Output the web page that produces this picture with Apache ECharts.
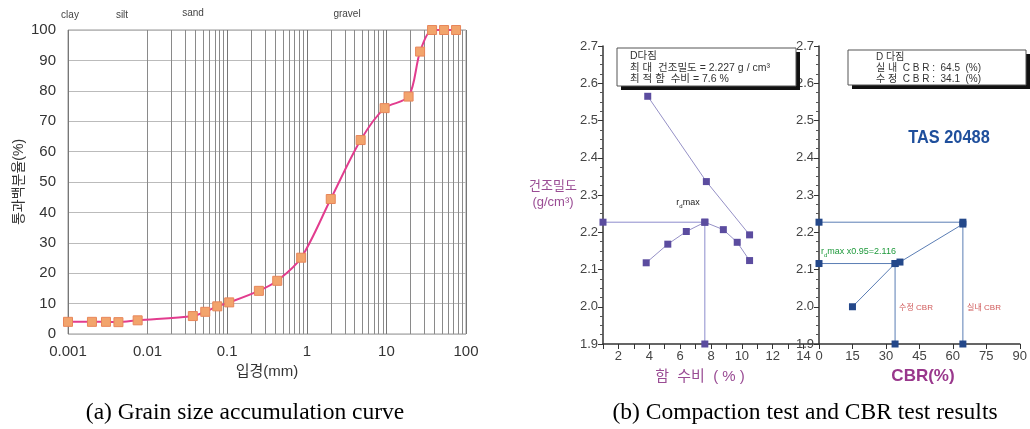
<!DOCTYPE html>
<html>
<head>
<meta charset="utf-8">
<script src="https://cdn.jsdelivr.net/npm/echarts@6.0.0/dist/echarts.min.js"></script>
<style>
  html, body { margin: 0; padding: 0; background: #fff; }
  #container { width: 1030px; height: 429px; }
</style>
</head>
<body>
<div id="container"></div>
<script>
// (a) grain size curve
var grainSize = [0.001, 0.002, 0.003, 0.0043, 0.0075, 0.037, 0.053, 0.075, 0.106, 0.25, 0.425, 0.85, 2, 4.75, 9.5, 19, 26.5, 37.5, 53, 75];
var passing = [4, 4, 4, 3.9, 4.5, 5.9, 7.3, 9.1, 10.4, 14.2, 17.5, 25.1, 44.4, 63.8, 74.3, 78.1, 92.9, 100, 100, 100];
var passTicks = [0, 10, 20, 30, 40, 50, 60, 70, 80, 90, 100];

// (b) compaction test
var moisture = [3.8, 5.2, 6.4, 7.6, 8.8, 9.7, 10.5];
var dryDensity = [2.118, 2.168, 2.202, 2.227, 2.207, 2.173, 2.124];
var zavMoisture = [3.9, 7.7, 10.5];
var zavDensity = [2.565, 2.336, 2.193];
var maxDensity = 2.227;
var optMoisture = 7.6;

// (b) CBR test
var cbrValues = [15, 34.1, 36.3, 64.5];
var cbrDensity = [2.0, 2.116, 2.12, 2.222];
var labCbr = 64.5;
var fieldCbr = 34.1;
var fieldDensity = 2.116;

var dom = document.getElementById("container");
var myChart = echarts.init(dom, null, { renderer: 'canvas' });

var pairs = function (xs, ys) {
    var out = [];
    for (var i = 0; i < xs.length; i++) out.push([xs[i], ys[i]]);
    return out;
};

// minor log grid lines (2..9 per decade)
var logGrid = [];
for (var p = -3; p <= 1; p++) {
    for (var k = 2; k <= 9; k++) logGrid.push({ xAxis: k * Math.pow(10, p) });
}

var sans = "'Liberation Sans', 'Noto Sans CJK KR', sans-serif";
var narrow = "'Liberation Sans Narrow', 'Liberation Sans', sans-serif";
var purple = '#9a4c94';
var cmpMarker = '#5b4c9f';
var cmpLine = '#9590c6';
var cbrMarker = '#24488a';
var cbrLine = '#5a7db4';

var rightYAxis = function (gridIndex) {
    return {
        gridIndex: gridIndex, type: 'value', min: 1.9, max: 2.7, interval: 0.1,
        axisLine: { show: true, lineStyle: { color: '#333', width: 1.5 } },
        axisTick: { show: true, length: 5, lineStyle: { color: '#333' } },
        minorTick: { show: true, splitNumber: 4, length: 3, lineStyle: { color: '#555' } },
        splitLine: { show: false },
        axisLabel: { fontSize: 13, color: '#444', fontFamily: narrow, margin: 5,
            formatter: function (v) { return v.toFixed(1); } }
    };
};

var txt = function (x, y, text, font, fill, align, sx) {
    return { type: 'text', x: x, y: y, z: 100, silent: true, scaleX: sx || 1,
        style: { text: text, font: font, fill: fill || '#333', textAlign: align || 'left', textVerticalAlign: 'middle' } };
};

var option = {
    animation: false,
    grid: [
        { left: 68, top: 30, width: 398, height: 304, show: true, borderColor: '#999', borderWidth: 1 },
        { left: 603, top: 46, width: 216, height: 298 },
        { left: 819, top: 46, width: 202, height: 298 }
    ],
    xAxis: [
        {
            gridIndex: 0, type: 'log', logBase: 10, min: 0.001, max: 100,
            name: '입경(mm)', nameLocation: 'middle', nameGap: 30,
            nameTextStyle: { fontSize: 15, color: '#333', fontFamily: sans },
            axisLine: { show: false }, axisTick: { show: false },
            splitLine: { show: true, lineStyle: { color: '#777' } },
            axisLabel: { fontSize: 15, color: '#333', fontFamily: sans, margin: 10,
                formatter: function (v) { return String(v); } }
        },
        {
            gridIndex: 1, type: 'value', min: 1, max: 15, interval: 1,
            axisLine: { show: true, lineStyle: { color: '#333', width: 1.5 } },
            axisTick: { show: true, length: 5, lineStyle: { color: '#333' } },
            splitLine: { show: false },
            axisLabel: { fontSize: 13, color: '#444', fontFamily: narrow, margin: 6,
                formatter: function (v) { return (v % 2 === 0 && v <= 14) ? String(v) : ''; } }
        },
        {
            gridIndex: 2, type: 'value', min: 0, max: 90, interval: 15,
            axisLine: { show: true, lineStyle: { color: '#333', width: 1.5 } },
            axisTick: { show: true, length: 5, lineStyle: { color: '#333' } },
            splitLine: { show: false },
            axisLabel: { fontSize: 13, color: '#444', fontFamily: narrow, margin: 6 }
        }
    ],
    yAxis: [
        {
            gridIndex: 0, type: 'value', min: passTicks[0], max: passTicks[passTicks.length - 1], interval: 10,
            name: '통과백분율(%)', nameLocation: 'middle', nameGap: 42, nameRotate: 90,
            nameTextStyle: { fontSize: 14, color: '#333', fontFamily: sans },
            axisLine: { show: false }, axisTick: { show: false },
            splitLine: { show: true, lineStyle: { color: '#bbb' } },
            axisLabel: { fontSize: 15, color: '#333', fontFamily: sans, margin: 12 }
        },
        rightYAxis(1),
        rightYAxis(2)
    ],
    series: [
        {
            type: 'line', xAxisIndex: 0, yAxisIndex: 0, data: [], z: 1, silent: true,
            markLine: { silent: true, symbol: ['none', 'none'], label: { show: false },
                lineStyle: { color: '#8a8a8a', width: 1, type: 'solid' }, data: logGrid }
        },
        {
            name: 'grain', type: 'line', xAxisIndex: 0, yAxisIndex: 0, z: 5,
            data: pairs(grainSize, passing), smooth: 0.3,
            lineStyle: { color: '#e23c8e', width: 2 },
            symbol: 'rect', symbolSize: 9,
            itemStyle: { color: '#f2a46c', borderColor: '#e8865a', borderWidth: 1 }
        },
        {
            name: 'zav', type: 'line', xAxisIndex: 1, yAxisIndex: 1,
            data: pairs(zavMoisture, zavDensity),
            lineStyle: { color: cmpLine, width: 1 },
            symbol: 'rect', symbolSize: 7, itemStyle: { color: cmpMarker }
        },
        {
            name: 'guideCmp', type: 'line', xAxisIndex: 1, yAxisIndex: 1,
            data: [[1, maxDensity], [optMoisture, maxDensity], [optMoisture, 1.9]],
            lineStyle: { color: '#8d8ccc', width: 1 },
            symbol: 'rect', symbolSize: 7, itemStyle: { color: cmpMarker }
        },
        {
            name: 'compaction', type: 'line', xAxisIndex: 1, yAxisIndex: 1,
            data: pairs(moisture, dryDensity),
            lineStyle: { color: cmpLine, width: 1 },
            symbol: 'rect', symbolSize: 7, itemStyle: { color: cmpMarker }
        },
        {
            name: 'guideLab', type: 'line', xAxisIndex: 2, yAxisIndex: 2,
            data: [[0, maxDensity], [labCbr, maxDensity], [labCbr, 1.9]],
            lineStyle: { color: cbrLine, width: 1 },
            symbol: 'rect', symbolSize: 7, itemStyle: { color: cbrMarker }
        },
        {
            name: 'guideField', type: 'line', xAxisIndex: 2, yAxisIndex: 2,
            data: [[0, fieldDensity], [fieldCbr, fieldDensity], [fieldCbr, 1.9]],
            lineStyle: { color: cbrLine, width: 1 },
            symbol: 'rect', symbolSize: 7, itemStyle: { color: cbrMarker }
        },
        {
            name: 'cbr', type: 'line', xAxisIndex: 2, yAxisIndex: 2,
            data: pairs(cbrValues, cbrDensity),
            lineStyle: { color: cbrLine, width: 1 },
            symbol: 'rect', symbolSize: 7, itemStyle: { color: cbrMarker }
        }
    ],
    graphic: [
        txt(70, 15, 'clay', '10px ' + sans, '#444', 'center'),
        txt(122, 15, 'silt', '10px ' + sans, '#444', 'center'),
        txt(193, 13, 'sand', '10px ' + sans, '#444', 'center'),
        txt(347, 14, 'gravel', '10px ' + sans, '#444', 'center'),

        // compaction info box
        { type: 'rect', z: 90, silent: true, shape: { x: 621, y: 52, width: 179, height: 38 }, style: { fill: '#111' } },
        { type: 'rect', z: 91, silent: true, shape: { x: 617, y: 48, width: 179, height: 38 }, style: { fill: '#fff', stroke: '#555', lineWidth: 1 } },
        txt(630, 56, 'D다짐', '10.5px ' + sans, '#333'),
        txt(630, 68, '최 대  건조밀도 = 2.227 g / cm³', '10.5px ' + sans, '#333'),
        txt(630, 79, '최 적 함  수비 = 7.6 %', '10.5px ' + sans, '#333'),

        // CBR info box
        { type: 'rect', z: 90, silent: true, shape: { x: 852, y: 54, width: 178, height: 35 }, style: { fill: '#111' } },
        { type: 'rect', z: 91, silent: true, shape: { x: 848, y: 50, width: 178, height: 35 }, style: { fill: '#fff', stroke: '#555', lineWidth: 1 } },
        txt(876, 57, 'D 다짐', '10px ' + sans, '#333'),
        txt(876, 68, '실 내  C B R :  64.5  (%)', '10px ' + sans, '#333'),
        txt(876, 79, '수 정  C B R :  34.1  (%)', '10px ' + sans, '#333'),

        txt(949, 138, 'TAS 20488', 'bold 19px ' + sans, '#1f4f9c', 'center', 0.86),

        // compaction axis titles
        txt(553, 186, '건조밀도', '13px ' + sans, purple, 'center'),
        txt(553, 202, '(g/cm³)', '13px ' + sans, purple, 'center'),
        txt(700, 377, '함  수비  ( % )', '15px ' + sans, purple, 'center'),
        txt(923, 376, 'CBR(%)', 'bold 17px ' + sans, '#99378c', 'center'),

        {
            type: 'text', x: 688, y: 203, z: 100, silent: true,
            style: {
                text: '{a|r}{b|d}{a|max}', textAlign: 'center', textVerticalAlign: 'middle',
                rich: { a: { fontSize: 9, fontFamily: narrow, fill: '#222' }, b: { fontSize: 6, fontFamily: narrow, fill: '#222', padding: [6, 0, 0, 0] } }
            }
        },
        {
            type: 'text', x: 821, y: 252, z: 100, silent: true,
            style: {
                text: '{a|r}{b|d}{a|max x0.95=2.116}', textAlign: 'left', textVerticalAlign: 'middle',
                rich: { a: { fontSize: 9, fontFamily: narrow, fill: '#1f9a3c' }, b: { fontSize: 6, fontFamily: narrow, fill: '#1f9a3c', padding: [6, 0, 0, 0] } }
            }
        },
        txt(916, 308, '수정 CBR', '8px ' + sans, '#d05a5a', 'center'),
        txt(984, 308, '실내 CBR', '8px ' + sans, '#d05a5a', 'center'),

        // captions
        txt(245, 413, '(a) Grain size accumulation curve', '23.5px "Liberation Serif", serif', '#000', 'center'),
        txt(805, 413, '(b) Compaction test and CBR test results', '23.5px "Liberation Serif", serif', '#000', 'center')
    ]
};

myChart.setOption(option, true);
</script>
</body>
</html>
